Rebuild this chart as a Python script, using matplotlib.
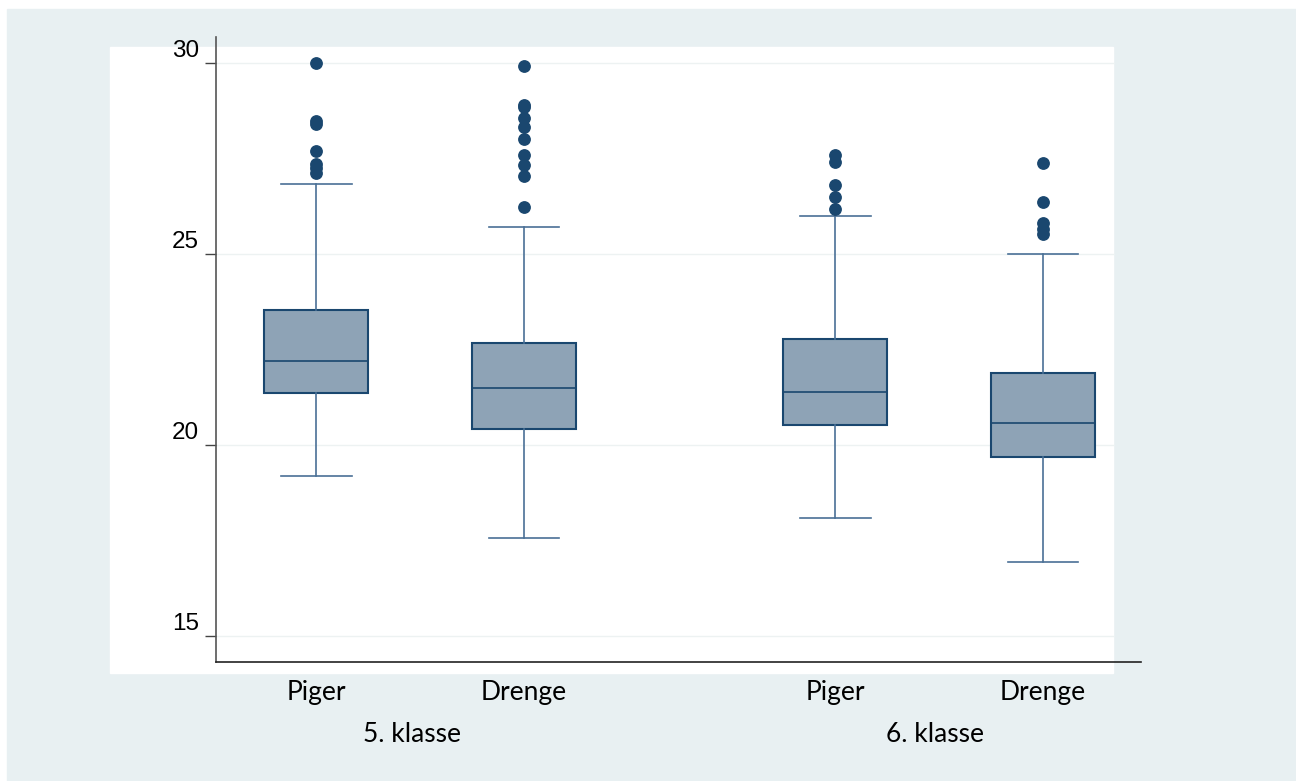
import matplotlib.pyplot as plt
import matplotlib.transforms as mtransforms
from matplotlib.patches import Rectangle

# boksplot-statistik
groups = ["Piger", "Drenge", "Piger", "Drenge"]
classes = ["5. klasse", "6. klasse"]
q1 = [21.36, 20.40, 20.53, 19.69]
median = [22.20, 21.48, 21.37, 20.58]
q3 = [23.54, 22.66, 22.76, 21.87]
whislo = [19.19, 17.57, 18.09, 16.94]
whishi = [26.83, 25.70, 25.99, 24.99]
fliers = [
    [30.0, 28.47, 28.40, 27.69, 27.35, 27.25, 27.12],
    [29.93, 28.90, 28.85, 28.57, 28.33, 28.01, 27.59, 27.34, 27.04, 26.22],
    [27.59, 27.41, 26.80, 26.49, 26.17],
    [27.39, 26.35, 25.81, 25.65, 25.51],
]
yticks = [15, 20, 25, 30]

NAVY = "#1A476F"


def main():
    plt.rcParams["font.family"] = ["Liberation Sans", "DejaVu Sans"]
    fig = plt.figure(figsize=(12.96, 7.81), dpi=100)
    fig.patch.set_facecolor("white")
    W, H = 1296, 781
    # Stata-agtig baggrund og hvidt plotområde
    fig.patches.append(Rectangle((7 / W, 0), 1 - 7 / W, 1 - 9 / H,
                                 transform=fig.transFigure, color="#E8F0F2", zorder=-2))
    fig.patches.append(Rectangle((110 / W, 1 - 673 / H), 1003 / W, 626 / H,
                                 transform=fig.transFigure, color="white", zorder=-1))

    ax = fig.add_axes([216 / W, 1 - 662 / H, 925 / W, 625 / H])
    ax.patch.set_alpha(0)

    positions = [1, 2, 3.5, 4.5]
    stats = []
    for i in range(len(groups)):
        stats.append(dict(med=median[i], q1=q1[i], q3=q3[i], whislo=whislo[i],
                          whishi=whishi[i], fliers=fliers[i]))
    ax.bxp(stats, positions=positions, widths=0.5, patch_artist=True,
           showfliers=True, capwidths=0.34,
           boxprops=dict(facecolor="#8EA3B6", edgecolor=NAVY, linewidth=1.5),
           medianprops=dict(color=NAVY, linewidth=1.2),
           whiskerprops=dict(color="#4A7096", linewidth=1.2),
           capprops=dict(color="#4A7096", linewidth=1.2),
           flierprops=dict(marker="o", markerfacecolor=NAVY, markeredgecolor=NAVY,
                           markersize=8.2))

    ax.set_xlim(0.517, 4.973)
    ax.set_ylim(14.31, 30.68)

    for y in yticks:
        ax.axhline(y, xmin=0, xmax=0.970, color="#EDF2F2", linewidth=1, zorder=0)

    # y-akse: tick-streger og etiketter lidt over stregen
    ax.set_yticks(yticks)
    ax.set_yticklabels([])
    ax.tick_params(axis="y", length=8, width=1, color="#444444")
    off = mtransforms.ScaledTranslation(0, 6 / 100, fig.dpi_scale_trans)
    ytrans = mtransforms.blended_transform_factory(fig.transFigure, ax.transData) + off
    for y in yticks:
        ax.text(199 / W, y, str(y), transform=ytrans, ha="right", va="baseline",
                fontsize=17.5, color="black")

    # x-akse: grupper og klasser
    ax.set_xticks(positions)
    ax.set_xticklabels(groups, family=["Lato", "DejaVu Sans"], fontsize=19)
    ax.tick_params(axis="x", length=0, pad=13)
    xtrans = mtransforms.blended_transform_factory(ax.transData, fig.transFigure)
    for x, c in zip([1.46, 3.98], classes):
        ax.text(x, 1 - 734 / H, c, transform=xtrans, ha="center", va="center",
                family=["Lato", "DejaVu Sans"], fontsize=19)

    ax.spines["top"].set_visible(False)
    ax.spines["right"].set_visible(False)
    ax.spines["left"].set_color("#555555")
    ax.spines["bottom"].set_color("#222222")
    ax.spines["left"].set_linewidth(1.2)
    ax.spines["bottom"].set_linewidth(1.2)

    fig.savefig("out.png", dpi=100)


if __name__ == "__main__":
    main()
